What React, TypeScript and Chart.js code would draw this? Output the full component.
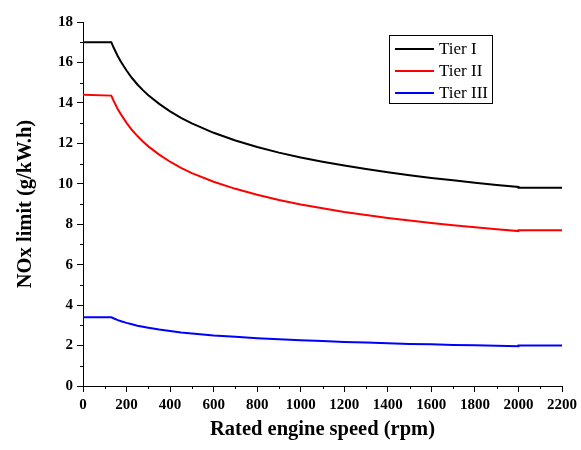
import React, { useEffect, useRef } from "react";
import { Chart, registerables } from "chart.js";

Chart.register(...registerables);

const rpm = [0, 130, 140, 160, 175, 200, 225, 250, 275, 300, 350, 400, 450, 500, 600, 700, 800, 900, 1000, 1100, 1200, 1300, 1400, 1500, 1600, 1700, 1800, 1900, 2000, 2000, 2100, 2200];
const tierI = [17, 17, 16.75, 16.31, 16.02, 15.6, 15.23, 14.91, 14.63, 14.38, 13.95, 13.58, 13.26, 12.99, 12.52, 12.14, 11.82, 11.54, 11.3, 11.09, 10.9, 10.73, 10.57, 10.42, 10.29, 10.17, 10.05, 9.94, 9.84, 9.8, 9.8, 9.8];
const tierII = [14.4, 14.36, 14.12, 13.69, 13.42, 13.01, 12.66, 12.36, 12.09, 11.85, 11.44, 11.09, 10.79, 10.53, 10.1, 9.75, 9.46, 9.2, 8.98, 8.79, 8.61, 8.46, 8.31, 8.18, 8.06, 7.95, 7.85, 7.75, 7.66, 7.7, 7.7, 7.7];
const tierIII = [3.4, 3.4, 3.35, 3.26, 3.2, 3.12, 3.05, 2.98, 2.93, 2.88, 2.79, 2.72, 2.65, 2.6, 2.5, 2.43, 2.36, 2.31, 2.26, 2.22, 2.18, 2.15, 2.11, 2.08, 2.06, 2.03, 2.01, 1.99, 1.97, 2.0, 2.0, 2.0];
const seriesNames = ["Tier I", "Tier II", "Tier III"];
const seriesColors = ["#000000", "#ff0000", "#0000ff"];
const xTitle = "Rated engine speed (rpm)";
const yTitle = "NOx limit (g/kW.h)";

const FONT = "'Liberation Serif', 'DejaVu Serif', serif";

const minorTicks = {
  id: "minorTicks",
  afterDraw(chart: any) {
    const ctx = chart.ctx;
    const xs = chart.scales.x;
    const ys = chart.scales.y;
    const area = chart.chartArea;
    ctx.save();
    ctx.strokeStyle = "#000";
    ctx.lineWidth = 1;
    ctx.beginPath();
    for (let v = 100; v < 2200; v += 200) {
      const px = Math.round(xs.getPixelForValue(v)) + 0.5;
      ctx.moveTo(px, area.bottom);
      ctx.lineTo(px, area.bottom + 3);
    }
    for (let v = 1; v < 18; v += 2) {
      const py = Math.round(ys.getPixelForValue(v)) + 0.5;
      ctx.moveTo(area.left - 3, py);
      ctx.lineTo(area.left, py);
    }
    ctx.stroke();
    ctx.restore();
  },
};

const boxLegend = {
  id: "boxLegend",
  afterDraw(chart: any) {
    const ctx = chart.ctx;
    ctx.save();
    ctx.strokeStyle = "#000";
    ctx.lineWidth = 1;
    ctx.strokeRect(389.5, 35.5, 103, 68);
    const rows = [49, 71, 93];
    ctx.font = `17px ${FONT}`;
    ctx.textBaseline = "middle";
    ctx.textAlign = "left";
    rows.forEach((y, i) => {
      ctx.strokeStyle = seriesColors[i];
      ctx.lineWidth = 2;
      ctx.beginPath();
      ctx.moveTo(395, y);
      ctx.lineTo(434, y);
      ctx.stroke();
      ctx.fillStyle = "#000";
      ctx.fillText(seriesNames[i], 439, y + 1);
    });
    ctx.restore();
  },
};

export default function App() {
  const ref = useRef<HTMLCanvasElement>(null);
  useEffect(() => {
    if (!ref.current) return;
    const series = [tierI, tierII, tierIII];
    const chart = new Chart(ref.current, {
      type: "line",
      data: {
        datasets: series.map((vals, i) => ({
          label: seriesNames[i],
          data: rpm.map((x, j) => ({ x, y: vals[j] })),
          borderColor: seriesColors[i],
          backgroundColor: seriesColors[i],
          borderWidth: 2,
          pointRadius: 0,
          tension: 0,
          fill: false,
        })),
      },
      options: {
        animation: false,
        responsive: false,
        devicePixelRatio: 1,
        layout: { padding: { top: 22, right: 19, left: 0, bottom: 0 } },
        plugins: { legend: { display: false }, tooltip: { enabled: false } },
        scales: {
          x: {
            type: "linear",
            min: 0,
            max: 2200,
            afterFit: (s: any) => {
              s.height = 64;
            },
            ticks: {
              stepSize: 200,
              color: "#000",
              font: { family: FONT, size: 15, weight: "bold" },
              maxRotation: 0,
              padding: 4,
              callback: (v: any) => String(v),
            },
            grid: { drawOnChartArea: false, drawTicks: true, tickLength: 6, tickColor: "#000" },
            border: { display: true, color: "#000", width: 1 },
            title: {
              display: true,
              text: xTitle,
              color: "#000",
              font: { family: FONT, size: 20.5, weight: "bold" },
              padding: { top: 0, bottom: 8 },
            },
          },
          y: {
            min: 0,
            max: 18,
            afterFit: (s: any) => {
              s.width = 83;
            },
            ticks: {
              stepSize: 2,
              color: "#000",
              font: { family: FONT, size: 15, weight: "bold" },
              padding: 4,
              callback: (v: any) => String(v),
            },
            grid: { drawOnChartArea: false, drawTicks: true, tickLength: 6, tickColor: "#000" },
            border: { display: true, color: "#000", width: 1 },
            title: {
              display: true,
              text: yTitle,
              color: "#000",
              font: { family: FONT, size: 20.5, weight: "bold" },
              padding: { top: 13, bottom: 0 },
            },
          },
        },
      },
      plugins: [minorTicks, boxLegend],
    } as any);
    return () => chart.destroy();
  }, []);
  return (
    <div style={{ position: "absolute", left: 0, top: 0, width: 581, height: 450, background: "#fff" }}>
      <canvas ref={ref} width={581} height={450} />
    </div>
  );
}
